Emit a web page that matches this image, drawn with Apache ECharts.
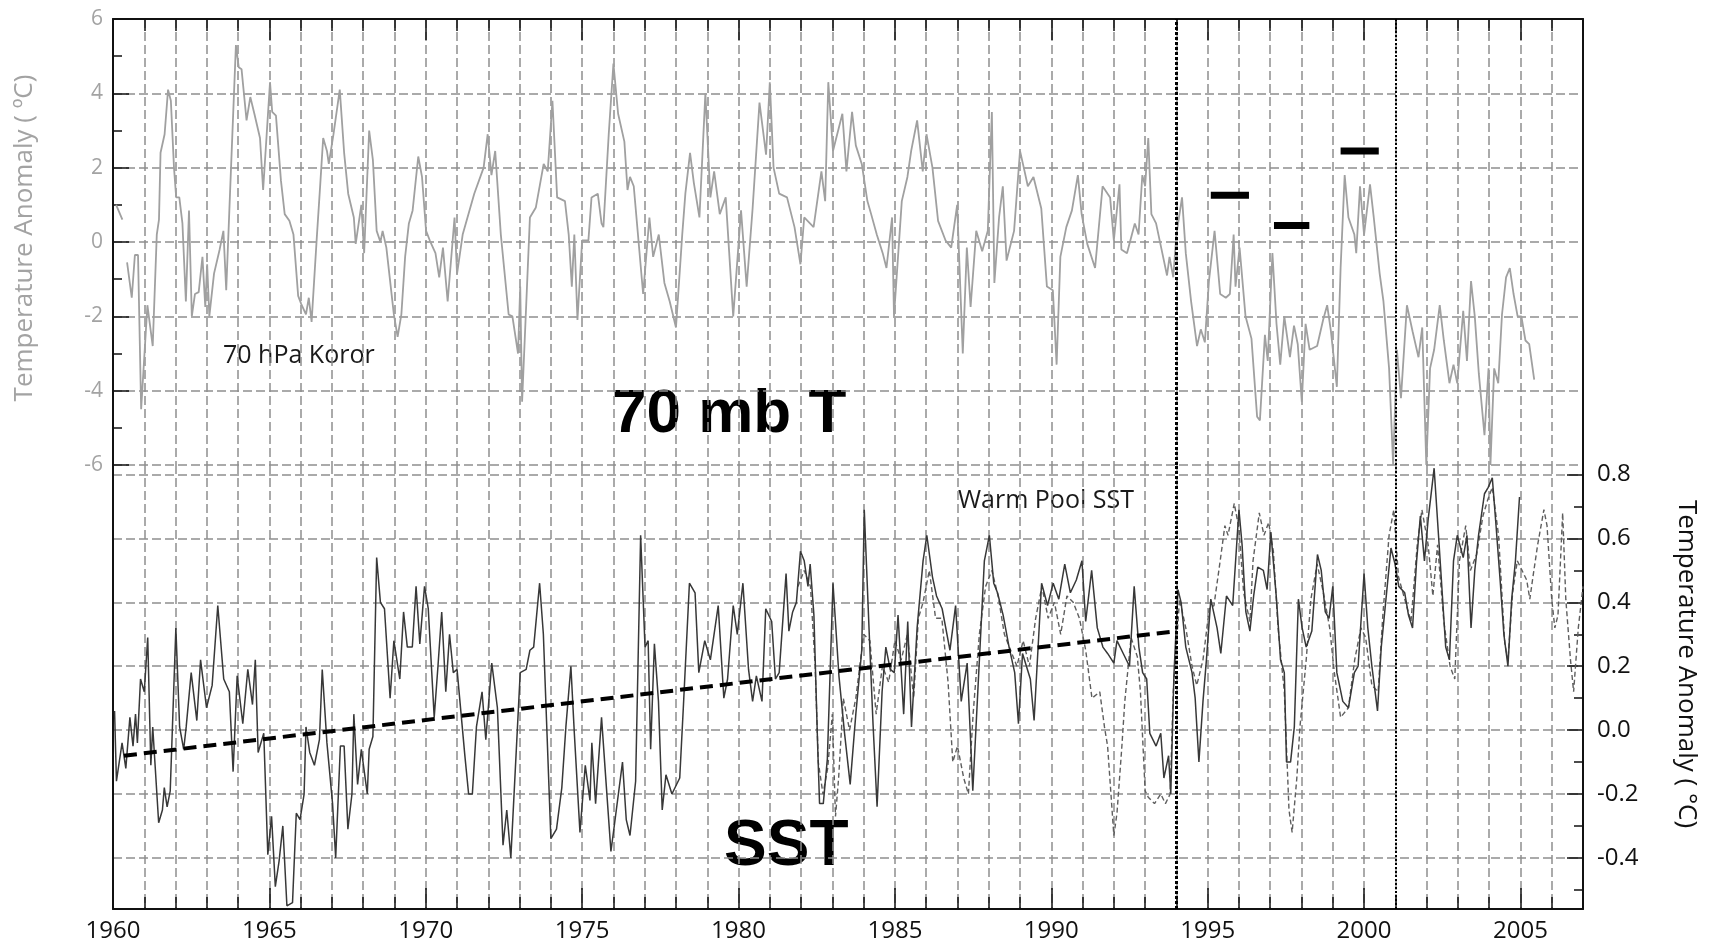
<!DOCTYPE html>
<html>
<head>
<meta charset="utf-8">
<script src="https://cdn.jsdelivr.net/npm/echarts@6/dist/echarts.min.js"></script>
<style>
  html, body { margin: 0; padding: 0; background: #ffffff; }
  #chart { width: 1709px; height: 948px; }
</style>
</head>
<body>
<div id="chart"></div>
<script>
// ---------- data ----------
// 70 hPa temperature anomaly at Koror (deg C), [decimal year, value]
const koror70 = [
  [1960.10, 1.0], [1960.30, 0.6], [1960.38, null], [1960.45, -0.55], [1960.60, -1.5], [1960.70, -0.35],
  [1960.80, -0.35], [1960.90, -4.5], [1961.10, -1.7], [1961.27, -2.8], [1961.40, 0.2], [1961.47, 0.6],
  [1961.52, 2.4], [1961.65, 2.9], [1961.76, 4.1], [1961.85, 3.8], [1961.95, 2.0], [1962.02, 1.2],
  [1962.12, 1.2], [1962.22, 0.5], [1962.33, -1.6], [1962.43, 0.85], [1962.52, -2.0], [1962.62, -1.4],
  [1962.74, -1.35], [1962.86, -0.4], [1962.95, -1.75], [1963.01, -0.6], [1963.08, -2.0], [1963.23, -0.85],
  [1963.41, -0.2], [1963.53, 0.3], [1963.62, -1.3], [1963.72, 0.85], [1963.93, 5.3], [1964.02, 4.7],
  [1964.11, 4.65], [1964.27, 3.27], [1964.39, 3.9], [1964.52, 3.45], [1964.70, 2.8], [1964.80, 1.4],
  [1965.02, 4.3], [1965.09, 3.5], [1965.21, 3.4], [1965.37, 1.65], [1965.49, 0.75], [1965.64, 0.57],
  [1965.77, 0.2], [1965.92, -1.45], [1966.02, -1.67], [1966.17, -1.95], [1966.26, -1.5], [1966.35, -2.15],
  [1966.51, 0.04], [1966.62, 1.47], [1966.72, 2.8], [1966.84, 2.45], [1966.90, 2.1], [1967.05, 2.9],
  [1967.25, 4.1], [1967.39, 2.4], [1967.52, 1.3], [1967.70, 0.66], [1967.76, -0.05], [1967.94, 1.0],
  [1968.03, -0.3], [1968.19, 3.0], [1968.31, 2.2], [1968.43, 0.3], [1968.55, 0.0], [1968.62, 0.3],
  [1968.74, -0.15], [1968.98, -1.95], [1969.10, -2.55], [1969.22, -1.95], [1969.34, -0.4], [1969.46, 0.5],
  [1969.58, 0.85], [1969.76, 2.3], [1969.88, 1.75], [1970.01, 0.3], [1970.13, 0.04], [1970.31, -0.3],
  [1970.43, -0.95], [1970.55, -0.15], [1970.70, -1.6], [1970.92, 0.66], [1971.00, -0.86], [1971.18, 0.2],
  [1971.55, 1.3], [1971.85, 2.0], [1971.98, 2.9], [1972.10, 1.8], [1972.22, 2.45], [1972.40, 0.2],
  [1972.65, -1.95], [1972.77, -2.0], [1972.95, -3.0], [1973.02, -1.2], [1973.08, -4.3], [1973.33, 0.66],
  [1973.52, 0.93], [1973.77, 2.1], [1973.90, 1.9], [1974.05, 3.8], [1974.20, 1.2], [1974.45, 1.1],
  [1974.57, 0.2], [1974.67, -1.2], [1974.75, 0.2], [1974.85, -2.1], [1975.00, 0.04], [1975.20, 0.04],
  [1975.30, 1.2], [1975.50, 1.3], [1975.62, 0.5], [1975.68, 0.4], [1975.85, 2.9], [1976.00, 4.8],
  [1976.15, 3.45], [1976.35, 2.7], [1976.45, 1.4], [1976.53, 1.75], [1976.65, 1.5], [1976.95, -1.4],
  [1977.15, 0.66], [1977.27, -0.4], [1977.45, 0.2], [1977.63, -1.1], [1977.80, -1.6], [1978.00, -2.3],
  [1978.20, 0.2], [1978.30, 1.3], [1978.45, 2.4], [1978.57, 1.6], [1978.75, 0.66], [1978.94, 4.0],
  [1979.10, 1.2], [1979.22, 1.9], [1979.40, 0.75], [1979.59, 1.2], [1979.83, -2.0], [1980.08, 0.85],
  [1980.26, -1.2], [1980.45, 0.9], [1980.67, 3.75], [1980.88, 2.35], [1981.00, 4.3], [1981.12, 2.0],
  [1981.30, 1.3], [1981.55, 1.2], [1981.79, 0.4], [1981.98, -0.6], [1982.10, 0.66], [1982.40, 0.4],
  [1982.65, 1.9], [1982.77, 1.1], [1982.87, 4.3], [1983.02, 2.45], [1983.32, 3.45], [1983.45, 1.9],
  [1983.63, 3.5], [1983.75, 2.6], [1983.94, 2.1], [1984.12, 1.1], [1984.24, 0.75], [1984.42, 0.2],
  [1984.61, -0.3], [1984.73, -0.7], [1984.91, 0.66], [1984.97, -2.0], [1985.22, 1.1], [1985.40, 1.75],
  [1985.52, 2.45], [1985.71, 3.27], [1985.89, 1.9], [1986.01, 2.9], [1986.20, 2.0], [1986.38, 0.57],
  [1986.62, 0.04], [1986.80, -0.15], [1986.99, 1.0], [1987.17, -3.0], [1987.30, -0.15], [1987.42, -1.75],
  [1987.60, 0.3], [1987.79, -0.25], [1987.97, 0.3], [1988.10, 3.5], [1988.18, -1.1], [1988.33, 0.66],
  [1988.45, 1.5], [1988.57, -0.5], [1988.81, 0.3], [1989.00, 2.45], [1989.12, 2.0], [1989.25, 1.5],
  [1989.43, 1.75], [1989.68, 0.9], [1989.86, -1.2], [1990.05, -1.3], [1990.17, -3.3], [1990.29, -0.4],
  [1990.48, 0.4], [1990.66, 0.85], [1990.85, 1.8], [1990.97, 0.75], [1991.15, -0.05], [1991.40, -0.7],
  [1991.64, 1.5], [1991.88, 1.2], [1992.00, 0.04], [1992.18, 1.55], [1992.24, -0.2], [1992.42, -0.3],
  [1992.67, 0.5], [1992.79, 0.2], [1992.91, 1.8], [1993.00, 1.5], [1993.10, 2.8], [1993.20, 0.75],
  [1993.35, 0.5], [1993.55, -0.3], [1993.70, -0.9], [1993.78, -0.4], [1993.90, -0.95], [1994.00, 0.2],
  [1994.18, 1.2], [1994.30, -0.3], [1994.47, -1.6], [1994.66, -2.8], [1994.78, -2.35], [1994.91, -2.7],
  [1995.04, -1.05], [1995.22, 0.3], [1995.40, -1.4], [1995.58, -1.5], [1995.71, -1.4], [1995.83, 0.2],
  [1995.89, -1.2], [1996.02, -0.15], [1996.21, -2.0], [1996.40, -2.6], [1996.58, -4.7], [1996.67, -4.8],
  [1996.83, -2.5], [1996.92, -3.2], [1997.07, -0.3], [1997.20, -2.2], [1997.32, -3.3], [1997.45, -2.0],
  [1997.63, -3.1], [1997.76, -2.25], [1997.88, -2.75], [1998.01, -4.3], [1998.13, -2.2], [1998.26, -2.9],
  [1998.50, -2.8], [1998.69, -2.1], [1998.82, -1.7], [1998.94, -2.4], [1999.13, -3.9], [1999.25, -0.7],
  [1999.38, 1.8], [1999.50, 0.66], [1999.69, 0.2], [1999.75, -0.3], [1999.87, 1.5], [2000.00, 0.2],
  [2000.19, 1.55], [2000.31, 0.66], [2000.50, -0.86], [2000.62, -1.6], [2000.80, -3.4], [2000.93, -6.0],
  [2001.05, -2.9], [2001.18, -4.2], [2001.37, -1.7], [2001.55, -2.4], [2001.74, -3.1], [2001.86, -2.3],
  [2001.99, -6.0], [2002.11, -3.4], [2002.24, -2.9], [2002.42, -1.7], [2002.55, -2.65], [2002.73, -3.8],
  [2002.86, -3.3], [2002.98, -3.8], [2003.17, -1.85], [2003.29, -3.2], [2003.42, -1.05], [2003.54, -2.0],
  [2003.67, -3.55], [2003.85, -5.2], [2003.98, -3.4], [2004.04, -6.0], [2004.16, -3.4], [2004.29, -3.8],
  [2004.41, -1.95], [2004.54, -0.95], [2004.66, -0.7], [2004.78, -1.4], [2004.91, -2.0], [2005.03, -2.0],
  [2005.16, -2.65], [2005.28, -2.75], [2005.44, -3.7]
];

// Warm Pool SST anomaly (deg C), solid record
const sstSolid = [
  [1960.05, 0.06], [1960.11, -0.16], [1960.29, -0.04], [1960.41, -0.12], [1960.54, 0.04], [1960.64, -0.05],
  [1960.72, 0.05], [1960.78, -0.04], [1960.88, 0.16], [1961.00, 0.12], [1961.11, 0.29], [1961.21, -0.11],
  [1961.27, 0.01], [1961.46, -0.29], [1961.58, -0.25], [1961.64, -0.18], [1961.73, -0.24], [1961.83, -0.19],
  [1962.01, 0.32], [1962.13, 0.01], [1962.26, -0.06], [1962.34, 0.01], [1962.50, 0.18], [1962.68, 0.03],
  [1962.80, 0.22], [1962.99, 0.07], [1963.17, 0.14], [1963.35, 0.39], [1963.54, 0.16], [1963.72, 0.12],
  [1963.84, -0.13], [1963.97, 0.17], [1964.15, 0.02], [1964.31, 0.19], [1964.46, 0.08], [1964.55, 0.22],
  [1964.64, -0.07], [1964.82, -0.01], [1964.95, -0.39], [1965.07, -0.27], [1965.19, -0.49], [1965.31, -0.41],
  [1965.43, -0.30], [1965.56, -0.55], [1965.74, -0.54], [1965.86, -0.26], [1965.98, -0.28], [1966.11, -0.20],
  [1966.17, 0.01], [1966.29, -0.07], [1966.44, -0.11], [1966.60, -0.03], [1966.69, 0.19], [1966.84, -0.04],
  [1967.02, -0.23], [1967.12, -0.40], [1967.27, -0.05], [1967.39, -0.05], [1967.51, -0.31], [1967.64, -0.20],
  [1967.70, 0.05], [1967.82, -0.17], [1967.94, -0.06], [1968.13, -0.20], [1968.19, -0.06], [1968.31, -0.02],
  [1968.43, 0.54], [1968.55, 0.40], [1968.68, 0.38], [1968.86, 0.10], [1968.98, 0.28], [1969.17, 0.16],
  [1969.29, 0.37], [1969.41, 0.26], [1969.57, 0.26], [1969.69, 0.45], [1969.81, 0.27], [1969.96, 0.45],
  [1970.08, 0.38], [1970.27, 0.04], [1970.39, 0.20], [1970.51, 0.37], [1970.64, 0.12], [1970.76, 0.30],
  [1970.88, 0.18], [1971.00, 0.19], [1971.25, -0.08], [1971.37, -0.20], [1971.49, -0.20], [1971.62, 0.01],
  [1971.80, 0.12], [1971.92, -0.03], [1972.11, 0.21], [1972.29, 0.07], [1972.47, -0.36], [1972.59, -0.25],
  [1972.72, -0.40], [1973.02, 0.18], [1973.21, 0.19], [1973.33, 0.25], [1973.45, 0.26], [1973.64, 0.46],
  [1973.76, 0.30], [1974.00, -0.34], [1974.18, -0.31], [1974.35, -0.18], [1974.48, 0.01], [1974.64, 0.20],
  [1974.75, -0.01], [1974.93, -0.32], [1975.10, -0.11], [1975.25, -0.22], [1975.31, -0.04], [1975.43, -0.23],
  [1975.62, 0.04], [1975.74, -0.13], [1975.92, -0.38], [1976.04, -0.29], [1976.29, -0.10], [1976.41, -0.28],
  [1976.53, -0.33], [1976.71, -0.16], [1976.87, 0.61], [1977.01, 0.26], [1977.11, 0.28], [1977.19, -0.06],
  [1977.31, 0.27], [1977.44, 0.09], [1977.56, -0.25], [1977.68, -0.14], [1977.87, -0.20], [1978.12, -0.15],
  [1978.24, 0.08], [1978.43, 0.46], [1978.61, 0.43], [1978.73, 0.18], [1978.92, 0.28], [1979.10, 0.22],
  [1979.35, 0.39], [1979.53, 0.10], [1979.65, 0.16], [1979.83, 0.39], [1979.96, 0.30], [1980.14, 0.46],
  [1980.32, 0.19], [1980.45, 0.09], [1980.57, 0.17], [1980.75, 0.09], [1980.87, 0.38], [1981.06, 0.34],
  [1981.18, 0.16], [1981.30, 0.18], [1981.52, 0.49], [1981.61, 0.31], [1981.73, 0.37], [1981.85, 0.40],
  [1981.98, 0.56], [1982.10, 0.53], [1982.22, 0.45], [1982.29, 0.52], [1982.41, 0.36], [1982.53, -0.05],
  [1982.59, -0.23], [1982.71, -0.23], [1982.84, -0.09], [1983.02, 0.46], [1983.21, 0.17], [1983.39, -0.01],
  [1983.57, -0.17], [1983.75, 0.05], [1983.94, 0.25], [1984.02, 0.69], [1984.18, 0.30], [1984.30, 0.02],
  [1984.43, -0.24], [1984.59, 0.12], [1984.71, 0.26], [1984.85, 0.19], [1984.98, 0.18], [1985.10, 0.36],
  [1985.28, 0.05], [1985.41, 0.34], [1985.53, 0.01], [1985.71, 0.32], [1985.90, 0.53], [1986.02, 0.61],
  [1986.20, 0.48], [1986.33, 0.42], [1986.51, 0.38], [1986.76, 0.25], [1986.94, 0.39], [1987.12, 0.09],
  [1987.31, 0.21], [1987.49, -0.19], [1987.65, 0.12], [1987.86, 0.53], [1988.02, 0.61], [1988.16, 0.46],
  [1988.28, 0.43], [1988.46, 0.36], [1988.65, 0.26], [1988.83, 0.18], [1988.95, 0.02], [1989.08, 0.24],
  [1989.33, 0.16], [1989.45, 0.03], [1989.69, 0.46], [1989.88, 0.39], [1990.06, 0.46], [1990.24, 0.41],
  [1990.43, 0.52], [1990.61, 0.43], [1990.80, 0.47], [1990.98, 0.53], [1991.10, 0.34], [1991.29, 0.50],
  [1991.47, 0.32], [1991.65, 0.26], [1991.80, 0.24], [1992.00, 0.21], [1992.10, 0.28], [1992.30, 0.24],
  [1992.50, 0.20], [1992.65, 0.45], [1992.80, 0.26], [1992.92, 0.18], [1993.05, 0.16], [1993.15, -0.01],
  [1993.35, -0.05], [1993.50, -0.01], [1993.60, -0.15], [1993.75, -0.08], [1993.82, -0.20], [1993.92, 0.17],
  [1994.05, 0.44], [1994.15, 0.40], [1994.30, 0.26], [1994.50, 0.18], [1994.60, 0.10], [1994.72, -0.10],
  [1994.85, 0.09], [1994.96, 0.22], [1995.10, 0.41], [1995.30, 0.32], [1995.42, 0.24], [1995.60, 0.42],
  [1995.80, 0.39], [1996.00, 0.69], [1996.10, 0.58], [1996.22, 0.37], [1996.35, 0.31], [1996.47, 0.42],
  [1996.60, 0.51], [1996.78, 0.50], [1996.90, 0.44], [1997.02, 0.62], [1997.20, 0.41], [1997.33, 0.22],
  [1997.45, 0.18], [1997.52, -0.10], [1997.65, -0.10], [1997.77, 0.01], [1997.90, 0.41], [1998.02, 0.32],
  [1998.15, 0.26], [1998.33, 0.31], [1998.51, 0.55], [1998.63, 0.50], [1998.76, 0.37], [1998.88, 0.35],
  [1999.00, 0.45], [1999.13, 0.18], [1999.32, 0.09], [1999.50, 0.07], [1999.69, 0.18], [1999.81, 0.20],
  [2000.00, 0.49], [2000.12, 0.32], [2000.25, 0.20], [2000.43, 0.06], [2000.55, 0.26], [2000.74, 0.45],
  [2000.86, 0.57], [2000.99, 0.52], [2001.11, 0.45], [2001.30, 0.43], [2001.42, 0.36], [2001.55, 0.32],
  [2001.68, 0.53], [2001.80, 0.67], [2001.93, 0.53], [2002.05, 0.66], [2002.24, 0.82], [2002.42, 0.55],
  [2002.61, 0.26], [2002.73, 0.22], [2002.86, 0.53], [2002.98, 0.61], [2003.17, 0.54], [2003.29, 0.61],
  [2003.42, 0.32], [2003.54, 0.50], [2003.66, 0.61], [2003.85, 0.74], [2003.97, 0.76], [2004.10, 0.79],
  [2004.22, 0.64], [2004.35, 0.47], [2004.47, 0.30], [2004.60, 0.20], [2004.72, 0.41], [2004.84, 0.53],
  [2004.97, 0.73]
];

// second Warm Pool SST record (dashed), 1982 onwards
const sstDashed = [
  [1981.90, 0.45], [1982.10, 0.50], [1982.30, 0.45], [1982.45, 0.20], [1982.55, -0.10], [1982.70, -0.20],
  [1982.85, -0.12], [1983.00, 0.05], [1983.10, -0.27], [1983.20, -0.15], [1983.35, 0.10], [1983.55, 0.00],
  [1983.75, 0.10], [1984.00, 0.30], [1984.20, 0.28], [1984.40, 0.05], [1984.60, 0.20], [1984.80, 0.15],
  [1985.00, 0.28], [1985.20, 0.22], [1985.40, 0.30], [1985.60, 0.10], [1985.75, 0.35], [1985.90, 0.40],
  [1986.10, 0.50], [1986.30, 0.35], [1986.50, 0.35], [1986.70, 0.15], [1986.85, -0.10], [1987.00, -0.05],
  [1987.20, -0.15], [1987.35, -0.20], [1987.50, 0.05], [1987.70, 0.30], [1987.90, 0.45], [1988.10, 0.50],
  [1988.30, 0.42], [1988.50, 0.30], [1988.70, 0.25], [1988.90, 0.20], [1989.10, 0.28], [1989.30, 0.20],
  [1989.50, 0.35], [1989.70, 0.45], [1989.90, 0.35], [1990.10, 0.40], [1990.30, 0.30], [1990.50, 0.42],
  [1990.70, 0.40], [1990.90, 0.35], [1991.10, 0.25], [1991.30, 0.10], [1991.55, 0.12], [1991.70, 0.01],
  [1991.80, -0.05], [1992.00, -0.33], [1992.10, -0.26], [1992.25, -0.06], [1992.35, 0.09], [1992.55, 0.29],
  [1992.75, 0.23], [1992.85, 0.12], [1993.00, -0.19], [1993.10, -0.21], [1993.30, -0.23], [1993.50, -0.20],
  [1993.65, -0.23], [1993.80, -0.20], [1993.90, 0.12], [1994.10, 0.41], [1994.30, 0.32], [1994.50, 0.20],
  [1994.65, 0.14], [1994.85, 0.22], [1995.05, 0.38], [1995.20, 0.39], [1995.40, 0.53], [1995.55, 0.64],
  [1995.65, 0.61], [1995.85, 0.71], [1996.00, 0.63], [1996.15, 0.43], [1996.35, 0.34], [1996.45, 0.53],
  [1996.65, 0.68], [1996.80, 0.61], [1996.95, 0.65], [1997.10, 0.56], [1997.25, 0.32], [1997.45, 0.12],
  [1997.60, -0.25], [1997.70, -0.32], [1997.85, -0.15], [1997.95, 0.01], [1998.15, 0.22], [1998.30, 0.41],
  [1998.50, 0.52], [1998.70, 0.43], [1998.90, 0.32], [1999.05, 0.18], [1999.25, 0.04], [1999.50, 0.07],
  [1999.70, 0.22], [1999.90, 0.32], [2000.05, 0.29], [2000.25, 0.14], [2000.45, 0.12], [2000.60, 0.36],
  [2000.80, 0.61], [2000.95, 0.69], [2001.10, 0.48], [2001.30, 0.41], [2001.50, 0.34], [2001.70, 0.58],
  [2001.85, 0.69], [2002.05, 0.58], [2002.20, 0.42], [2002.35, 0.58], [2002.55, 0.34], [2002.75, 0.20],
  [2002.90, 0.16], [2003.05, 0.53], [2003.25, 0.64], [2003.40, 0.50], [2003.60, 0.55], [2003.80, 0.67],
  [2003.95, 0.72], [2004.10, 0.76], [2004.30, 0.61], [2004.50, 0.27], [2004.60, 0.22], [2004.75, 0.43],
  [2004.90, 0.53], [2005.05, 0.50], [2005.20, 0.47], [2005.30, 0.41], [2005.40, 0.48], [2005.55, 0.58],
  [2005.75, 0.69], [2005.85, 0.64], [2006.00, 0.41], [2006.10, 0.32], [2006.20, 0.36], [2006.35, 0.68],
  [2006.45, 0.41], [2006.60, 0.22], [2006.70, 0.12], [2006.85, 0.32], [2007.00, 0.45]
];

// linear SST trend, 1960-1994
const sstTrend = [[1960.35, -0.08], [1994.0, 0.31]];

// period means of the 70 hPa anomaly: [start year, end year, value]
const periodMeans = [
  [1995.10, 1996.32, 1.26],
  [1997.12, 1998.25, 0.445],
  [1999.25, 2000.47, 2.45]
];

// regime boundaries
const breakYears = [1994, 2001];

// axis ticks
const yearMin = 1960, yearMax = 2007;
const fiveYearTicks = [1960, 1965, 1970, 1975, 1980, 1985, 1990, 1995, 2000, 2005];
const sstMajorTicks = [-0.4, -0.2, 0.0, 0.2, 0.4, 0.6, 0.8];
const sstMinorTicks = [-0.5, -0.3, -0.1, 0.1, 0.3, 0.5, 0.7];

// ---------- styling ----------
const FONT = "'Open Sans', 'Noto Sans', sans-serif";
const BOLD = "'Liberation Sans', Arial, sans-serif";
const gridDash = { color: '#8e8e8e', width: 1.5, type: [9, 4] };
const frame = { show: true, onZero: false, lineStyle: { color: '#111', width: 2 } };

const upperGrid = { left: 113, right: 126, top: 19, height: 446 };
const lowerGrid = { left: 113, right: 126, top: 465, bottom: 39 };
const sstMin = -0.56, sstMax = 0.83;

function yearAxis(gridIndex, position, withLabels) {
  return {
    type: 'value', gridIndex, position, min: yearMin, max: yearMax, interval: 1,
    axisLine: frame,
    axisTick: { show: true, inside: true, length: 12, lineStyle: { color: '#111', width: 1.5 } },
    axisLabel: withLabels ? {
      show: true, margin: 10, color: '#111', fontFamily: FONT, fontSize: 24,
      formatter: v => (v % 5 === 0 && v < yearMax ? String(v) : '')
    } : { show: false },
    splitLine: { show: true, lineStyle: gridDash }
  };
}
function yearLongTicks(gridIndex, position) {
  return {
    type: 'value', gridIndex, position, min: yearMin, max: yearMax,
    axisLine: { show: false, onZero: false },
    axisTick: { show: true, inside: true, length: 21, customValues: fiveYearTicks,
                lineStyle: { color: '#111', width: 1.5 } },
    axisLabel: { show: false },
    splitLine: { show: false }
  };
}

const vLineData = breakYears.map((y, i) => ({
  xAxis: y,
  lineStyle: i === 0 ? { color: '#000', width: 3, type: [3, 2] } : { color: '#000', width: 2, type: [2, 2] }
}));
const vMarkLine = { silent: true, symbol: 'none', label: { show: false }, data: vLineData, animation: false };

const option = {
  animation: false,
  backgroundColor: '#ffffff',
  grid: [upperGrid, lowerGrid],
  xAxis: [
    yearAxis(0, 'top', false),
    yearLongTicks(0, 'top'),
    yearAxis(1, 'bottom', true),
    yearLongTicks(1, 'bottom')
  ],
  yAxis: [
    { // 70 hPa scale, left
      type: 'value', gridIndex: 0, position: 'left', min: -6, max: 6, interval: 2,
      axisLine: frame,
      axisTick: { show: true, inside: true, length: 16, lineStyle: { color: '#111', width: 1.5 } },
      minorTick: { show: true, splitNumber: 2, length: 9, lineStyle: { color: '#111', width: 1.5 } },
      axisLabel: { color: '#a3a3a3', fontFamily: FONT, fontSize: 21, margin: 10 },
      splitLine: { show: true, lineStyle: gridDash }
    },
    { // right frame of the upper panel
      type: 'value', gridIndex: 0, position: 'right', min: -6, max: 6,
      axisLine: frame, axisTick: { show: false }, axisLabel: { show: false }, splitLine: { show: false }
    },
    { // SST scale, right
      type: 'value', gridIndex: 1, position: 'right', min: sstMin, max: sstMax,
      axisLine: frame,
      axisTick: { show: true, inside: true, length: 16, customValues: sstMajorTicks,
                  lineStyle: { color: '#111', width: 1.5 } },
      axisLabel: { show: true, customValues: sstMajorTicks, color: '#111', fontFamily: FONT,
                   fontSize: 24, margin: 14, formatter: v => v.toFixed(1) },
      splitLine: { show: true, lineStyle: gridDash }
    },
    { // SST minor ticks
      type: 'value', gridIndex: 1, position: 'right', min: sstMin, max: sstMax,
      axisLine: { show: false, onZero: false },
      axisTick: { show: true, inside: true, length: 9, customValues: sstMinorTicks,
                  lineStyle: { color: '#111', width: 1.5 } },
      axisLabel: { show: false }, splitLine: { show: false }
    },
    { // left frame of the lower panel
      type: 'value', gridIndex: 1, position: 'left', min: sstMin, max: sstMax,
      axisLine: frame, axisTick: { show: false }, axisLabel: { show: false }, splitLine: { show: false }
    }
  ],
  series: [
    {
      name: '70 hPa Koror', type: 'line', xAxisIndex: 0, yAxisIndex: 0,
      data: koror70, showSymbol: false, connectNulls: false,
      lineStyle: { color: '#a0a0a0', width: 1.8 },
      markLine: vMarkLine, z: 3
    },
    ...periodMeans.map((p, i) => ({
      name: 'mean ' + (i + 1), type: 'line', xAxisIndex: 0, yAxisIndex: 0,
      data: [[p[0], p[2]], [p[1], p[2]]], showSymbol: false,
      lineStyle: { color: '#000', width: 7, cap: 'butt' }, z: 4
    })),
    {
      name: 'Warm Pool SST (2)', type: 'line', xAxisIndex: 2, yAxisIndex: 2,
      data: sstDashed, showSymbol: false,
      lineStyle: { color: '#5e5e5e', width: 1.4, type: [5, 3] }, z: 3
    },
    {
      name: 'Warm Pool SST', type: 'line', xAxisIndex: 2, yAxisIndex: 2,
      data: sstSolid, showSymbol: false,
      lineStyle: { color: '#383838', width: 1.5 },
      markLine: vMarkLine, z: 4
    },
    {
      name: 'SST trend', type: 'line', xAxisIndex: 2, yAxisIndex: 2,
      data: sstTrend, showSymbol: false,
      lineStyle: { color: '#000', width: 4, type: [13, 7] }, z: 5
    }
  ],
  graphic: [
    { type: 'text', x: 25, y: 238, rotation: Math.PI / 2,
      style: { text: 'Temperature Anomaly ( ºC)', fill: '#a3a3a3', font: '26px ' + FONT,
               align: 'center', verticalAlign: 'middle' } },
    { type: 'text', x: 1686, y: 664, rotation: -Math.PI / 2,
      style: { text: 'Temperature Anomaly ( °C)', fill: '#111', font: '26px ' + FONT,
               align: 'center', verticalAlign: 'middle' } },
    { type: 'text', x: 223, y: 356,
      style: { text: '70 hPa Koror', fill: '#1a1a1a', font: '25px ' + FONT,
               align: 'left', verticalAlign: 'middle' } },
    { type: 'text', x: 958, y: 501,
      style: { text: 'Warm Pool SST', fill: '#1a1a1a', font: '25px ' + FONT,
               align: 'left', verticalAlign: 'middle' } },
    { type: 'text', x: 612, y: 415,
      style: { text: '70 mb T', fill: '#000', font: 'bold 62px ' + BOLD,
               align: 'left', verticalAlign: 'middle' } },
    { type: 'text', x: 724, y: 847,
      style: { text: 'SST', fill: '#000', font: 'bold 64px ' + BOLD,
               align: 'left', verticalAlign: 'middle' } }
  ]
};

const chart = echarts.init(document.getElementById('chart'), null, { renderer: 'canvas' });
chart.setOption(option);
</script>
</body>
</html>
